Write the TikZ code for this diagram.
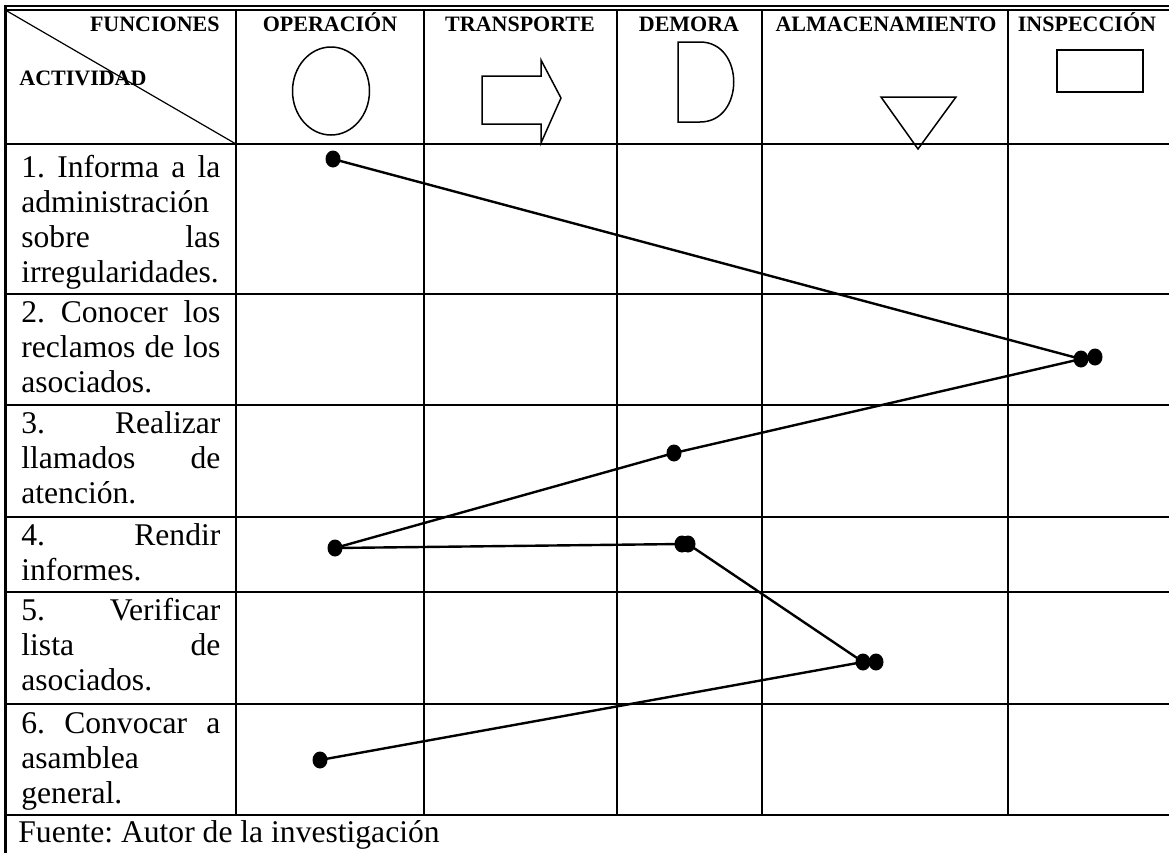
\documentclass[tikz,border=0pt]{standalone}
\usepackage{fontspec}
\setmainfont{Liberation Serif}
\usetikzlibrary{shapes.geometric}
\frenchspacing
\begin{document}
\begin{tikzpicture}[x=0.5pt,y=-0.5pt,
  grid/.style={line width=1pt},
  sym/.style={line width=0.75pt},
  conn/.style={line width=1.2pt},
  dot/.style={ellipse,fill=black,inner sep=0pt,minimum width=7.5pt,minimum height=8.5pt},
  hdr/.style={font=\bfseries\fontsize{11}{13}\selectfont,inner sep=0pt,anchor=base},
  cell/.style={font=\fontsize{15.8}{17.5}\selectfont,inner sep=0pt,anchor=base west,
    text width=99.5pt,align=left,
    execute at begin node={\hyphenpenalty=10000\exhyphenpenalty=10000}},
  foot/.style={font=\fontsize{15.8}{17.5}\selectfont,inner sep=0pt,anchor=base west},
]
\useasboundingbox (0,0) rectangle (1169,853);

% table frame
\draw[line width=0.8pt] (4,6) -- (1169,6);
\draw[line width=0.8pt] (4,10) -- (1169,10);
\draw[line width=1.75pt] (5.5,5) -- (5.5,853);
\foreach \yy in {144,294,405,517,592,704,815}
  \draw[grid] (5,\yy) -- (1169,\yy);
\foreach \xx in {236,424,617,762,1008}
  \draw[grid] (\xx,10) -- (\xx,815);
\draw[line width=0.6pt] (7,11) -- (236,144);

% header texts
\node[hdr,anchor=base east] (hf) at (220,31) {FUNCIONES};
\node[hdr,anchor=base west] (ha) at (19,85) {ACTIVIDAD};
\node[hdr] (h1) at (330,31) {OPERACIÓN};
\node[hdr] (h2) at (520,31) {TRANSPORTE};
\node[hdr] (h3) at (689,31) {DEMORA};
\node[hdr] (h4) at (886,31) {ALMACENAMIENTO};
\node[hdr] (h5) at (1087,31) {INSPECCIÓN};

% header symbols
\draw[sym] (331,91) ellipse [x radius=19.25pt, y radius=22pt];
\draw[sym] (482,76) -- (541,76) -- (541,60) -- (561,98) -- (541,143) -- (541,124) -- (482,124) -- cycle;
\draw[sym] (678,122) -- (678,42) -- (700,42) .. controls (745,42) and (745,122) .. (700,122) -- cycle;
\draw[sym] (881,97) -- (956,97) -- (918,149) -- cycle;
\draw[sym] (1057,50) rectangle (1143,92);

% activity texts
\node[cell] (a1) at (21,177) {1.\hfill Informa\hfill a\hfill la\\administración\\sobre\hfill las\\irregularidades.};
\node[cell] (a2) at (21,322) {2.\hfill Conocer\hfill los\\reclamos\hfill de\hfill los\\asociados.};
\node[cell] (a3) at (21,433) {3.\hfill Realizar\\llamados\hfill de\\atención.};
\node[cell] (a4) at (21,545) {4.\hfill Rendir\\informes.};
\node[cell] (a5) at (21,620) {5.\hfill Verificar\\lista\hfill de\\asociados.};
\node[cell] (a6) at (21,733) {6.\hfill Convocar\hfill a\\asamblea\\general.};
\node[foot] (src) at (18,842) {Fuente: Autor de la investigación};

% points
\node[dot] (p1) at (333,159) {};
\node[dot] (p2a) at (1081,359) {};
\node[dot] (p2b) at (1095,357) {};
\node[dot] (p3) at (674,453) {};
\node[dot] (p4) at (335,548) {};
\node[dot] (p5a) at (682,544) {};
\node[dot] (p5b) at (688,544) {};
\node[dot] (p6a) at (863,662) {};
\node[dot] (p6b) at (876,662) {};
\node[dot] (p7) at (320,760) {};

% connectors
\draw[conn] (p1.center) -- (p2a.center);
\draw[conn] (p2a.center) -- (p3.center);
\draw[conn] (p3.center) -- (p4.center);
\draw[conn] (p4.center) -- (p5a.center);
\draw[conn] (p5b.center) -- (p6a.center);
\draw[conn] (p6a.center) -- (p7.center);
\end{tikzpicture}
\end{document}
